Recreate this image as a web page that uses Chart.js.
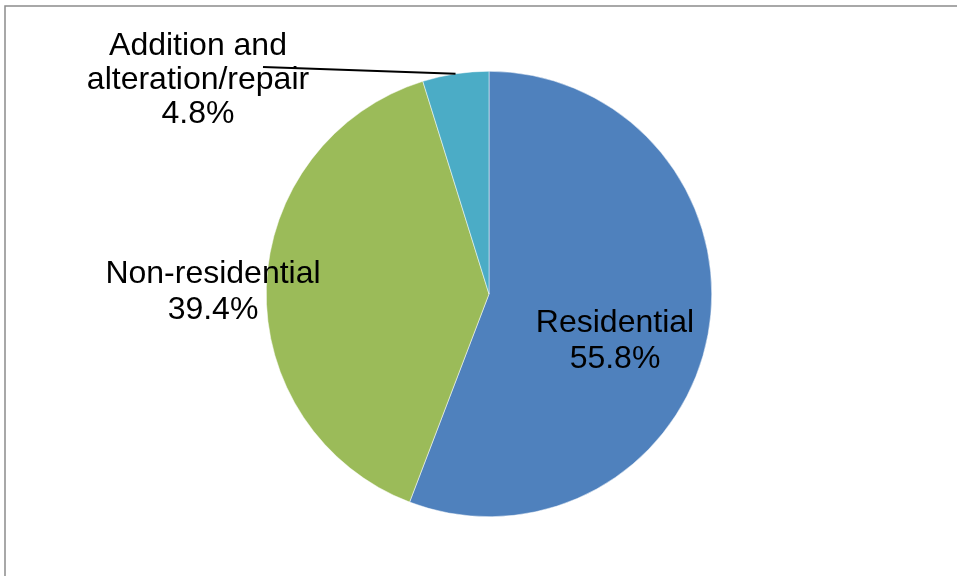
<!DOCTYPE html>
<html>
<head>
<meta charset="utf-8">
<script src="https://cdn.jsdelivr.net/npm/chart.js@4"></script>
<style>
  html, body { margin: 0; padding: 0; background: #fff; }
  #wrap { width: 957px; height: 576px; position: relative; }
</style>
</head>
<body>
<div id="wrap"><canvas id="pieChart"></canvas></div>
<script>
const categories = ['Residential', 'Non-residential', 'Addition and\nalteration/repair'];
const shares = [55.8, 39.4, 4.8];
const sliceColors = ['#4F81BD', '#9BBB59', '#4BACC6'];

// label block centres, as offsets from the pie centre (px)
const labelOffsets = [[126, 47], [-276, -2], [-291, -214]];

const framePlugin = {
    id: 'frame',
    beforeDraw(chart) {
        const ctx = chart.ctx;
        ctx.save();
        ctx.fillStyle = '#fff';
        ctx.fillRect(0, 0, chart.width, chart.height);
        ctx.strokeStyle = '#8c8c8c';
        ctx.lineWidth = 1.5;
        ctx.strokeRect(5, 6, 1200, 900);
        ctx.restore();
    }
};

const labelPlugin = {
    id: 'sliceLabels',
    afterDatasetsDraw(chart) {
        const ctx = chart.ctx;
        const arcs = chart.getDatasetMeta(0).data;
        ctx.save();
        ctx.font = '32px "Liberation Sans", Arial, sans-serif';
        ctx.fillStyle = '#000';
        ctx.textAlign = 'center';
        ctx.textBaseline = 'middle';
        arcs.forEach((arc, i) => {
            const lines = categories[i].split('\n').concat([shares[i].toFixed(1) + '%']);
            const cx = arc.x + labelOffsets[i][0];
            const cy = arc.y + labelOffsets[i][1];
            const lh = lines.length > 2 ? 34 : 36;
            lines.forEach((t, k) => {
                ctx.fillText(t, cx, cy + (k - (lines.length - 1) / 2) * lh);
            });
        });
        // leader line for the small slice
        const small = arcs[2];
        const mid = (small.startAngle + small.endAngle) / 2;
        const ex = small.x + small.outerRadius * Math.cos(mid);
        const ey = small.y + small.outerRadius * Math.sin(mid);
        ctx.strokeStyle = '#000';
        ctx.lineWidth = 2;
        ctx.beginPath();
        ctx.moveTo(small.x + labelOffsets[2][0] + 65, small.y + labelOffsets[2][1] - 13);
        ctx.lineTo(ex, ey);
        ctx.stroke();
        ctx.restore();
    }
};

new Chart(document.getElementById('pieChart'), {
    type: 'pie',
    data: {
        labels: categories,
        datasets: [{
            data: shares,
            backgroundColor: sliceColors,
            borderColor: '#ffffff',
            borderWidth: 0.5
        }]
    },
    options: {
        responsive: true,
        maintainAspectRatio: false,
        animation: false,
        layout: {
            padding: { top: 71, bottom: 59, left: 266, right: 245 }
        },
        plugins: {
            legend: { display: false },
            tooltip: { enabled: false }
        }
    },
    plugins: [framePlugin, labelPlugin]
});
</script>
</body>
</html>
